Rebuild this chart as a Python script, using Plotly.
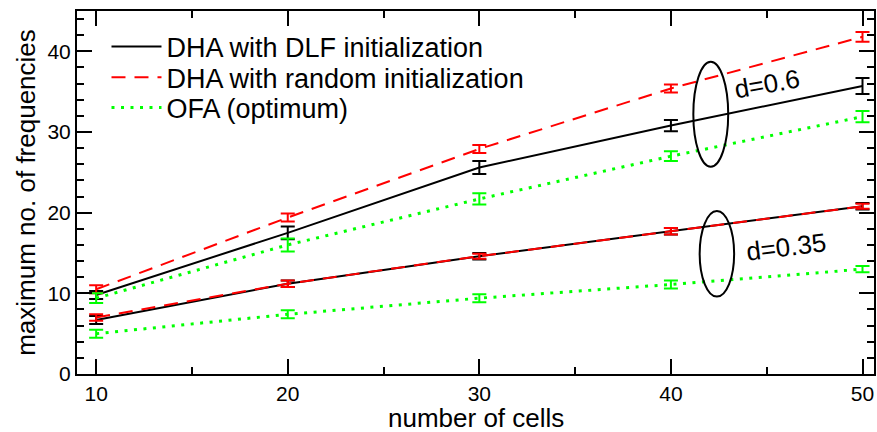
import plotly.graph_objects as go

cells = [10, 20, 30, 40, 50]

# d = 0.6
dlf_06 = [9.8, 17.5, 25.6, 30.8, 35.7]
dlf_06_err = [0.5, 0.8, 0.8, 0.7, 1.0]
rnd_06 = [10.5, 19.4, 27.9, 35.4, 41.8]
rnd_06_err = [0.5, 0.5, 0.5, 0.5, 0.6]
ofa_06 = [9.4, 16.0, 21.7, 27.0, 31.9]
ofa_06_err = [0.6, 0.8, 0.7, 0.6, 0.7]

# d = 0.35
dlf_035 = [6.7, 11.2, 14.6, 17.7, 20.8]
dlf_035_err = [0.5, 0.4, 0.4, 0.4, 0.4]
rnd_035 = [7.0, 11.2, 14.6, 17.7, 20.8]
rnd_035_err = [0.4, 0.4, 0.3, 0.4, 0.3]
ofa_035 = [5.0, 7.4, 9.4, 11.1, 13.0]
ofa_035_err = [0.5, 0.5, 0.5, 0.5, 0.4]

x_title = "number of cells"
y_title = "maximum no. of frequencies"
names = ["DHA with DLF initialization", "DHA with random initialization", "OFA (optimum)"]
colors = ["#000000", "#ff0000", "#00ff00"]
dashes = ["solid", "14px,9px", "3px,6.5px"]
widths = [2, 2, 3]
legend_ids = ["legend", "legend2", "legend3"]
legend_y = [0.901, 0.816, 0.733]

FONT = "Liberation Sans, Arial, Helvetica, sans-serif"

fig = go.Figure()

groups = [
    (dlf_06, dlf_06_err, dlf_035, dlf_035_err),
    (rnd_06, rnd_06_err, rnd_035, rnd_035_err),
    (ofa_06, ofa_06_err, ofa_035, ofa_035_err),
]

for i, (y1, e1, y2, e2) in enumerate(groups):
    for j, (yy, ee) in enumerate([(y1, e1), (y2, e2)]):
        fig.add_trace(go.Scatter(
            x=cells, y=yy, mode="lines", name=names[i],
            legend=legend_ids[i], legendgroup=names[i], showlegend=(j == 0),
            line=dict(color=colors[i], width=widths[i], dash=dashes[i]),
            error_y=dict(type="data", array=ee, visible=True, color=colors[i],
                         thickness=2, width=7),
        ))

# ellipses grouping the two families of curves
fig.add_shape(type="circle", xref="x", yref="y", x0=41.17, x1=42.99, y0=25.7, y1=38.7,
              line=dict(color="black", width=2))
fig.add_shape(type="circle", xref="x", yref="y", x0=41.5, x1=43.3, y0=9.6, y1=20.2,
              line=dict(color="black", width=2))

fig.add_annotation(x=45.0, y=36.0, xref="x", yref="y", text="d=0.6", showarrow=False,
                   textangle=-10, font=dict(size=26, color="black", family=FONT))
fig.add_annotation(x=46.0, y=15.8, xref="x", yref="y", text="d=0.35", showarrow=False,
                   textangle=-7, font=dict(size=26, color="black", family=FONT))

# x-axis title
fig.add_annotation(x=0.5, y=-0.122, xref="paper", yref="paper", text=x_title, showarrow=False,
                   xanchor="center", yanchor="middle",
                   font=dict(size=26, color="black", family=FONT))

axis_common = dict(
    showline=True, linecolor="black", linewidth=2, mirror="ticks",
    ticks="inside", ticklen=15, tickwidth=1.5, tickcolor="black",
    showgrid=False, zeroline=False,
    tickfont=dict(size=21, color="black", family=FONT),
)

fig.update_xaxes(
    range=[9, 50.6], tickvals=[10, 20, 30, 40, 50],
    minor=dict(tickvals=[15, 25, 35, 45], ticks="inside", ticklen=7, tickwidth=1.5, tickcolor="black"),
    **axis_common,
)
fig.update_yaxes(
    range=[0, 45], tickvals=[0, 10, 20, 30, 40],
    minor=dict(dtick=2, ticks="inside", ticklen=7, tickwidth=1.5, tickcolor="black"),
    title=dict(text=y_title, font=dict(size=26, color="black", family=FONT), standoff=4),
    **axis_common,
)

legend_common = dict(x=0.037, xanchor="left", yanchor="middle", bgcolor="rgba(0,0,0,0)",
                     font=dict(size=27, color="black", family=FONT), itemwidth=50,
                     borderwidth=0)
layout_legends = {lid: dict(y=ly, **legend_common) for lid, ly in zip(legend_ids, legend_y)}

fig.update_layout(
    width=877, height=432,
    margin=dict(l=77, r=1, t=11, b=58),
    plot_bgcolor="white", paper_bgcolor="white",
    font=dict(family=FONT, size=21, color="black"),
    showlegend=True,
    **layout_legends,
)

fig.write_html(
    "out.html",
    config={"displayModeBar": False},
    post_script="document.body.style.margin='0';document.body.style.padding='0';",
)
